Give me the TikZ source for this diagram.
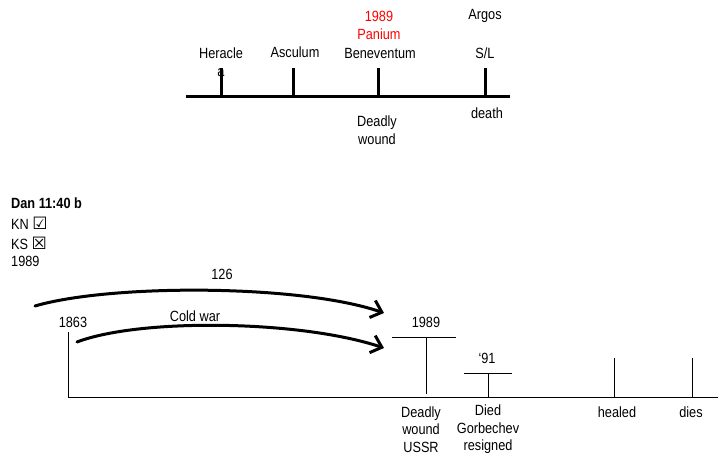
\documentclass[tikz,border=0pt]{standalone}
\usepackage{fontspec}
\setmainfont[FakeStretch=0.86]{Liberation Sans}
\newfontfamily\boxfont{DejaVu Sans}
\usetikzlibrary{arrows.meta}

\begin{document}
\begin{tikzpicture}[x=1pt, y=-1pt,
        lbl/.style={align=center, inner sep=0pt, font=\fontsize{14.8}{18.5}\selectfont},
        lbllow/.style={lbl, font=\fontsize{14.8}{17.5}\selectfont},
        bigline/.style={line width=3pt},
        thinline/.style={line width=1pt},
        hand/.style={line width=3pt, line cap=round, line join=round,
          -{Straight Barb[length=10pt, width=18pt, line width=3pt]}}]

        \useasboundingbox (0,0) rectangle (718,460);

        % top timeline
        \draw[bigline] (186,97) -- (510,97);
        \draw[bigline] (221,68) -- (221,97);
        \draw[bigline] (293,68) -- (293,97);
        \draw[bigline] (378,68) -- (378,97);
        \draw[bigline] (485,68) -- (485,97);

        \node[lbl] (heracle) at (221,62) {Heracle\\a};
        \node[lbl] (asculum) at (295,52) {Asculum};
        \node[lbl] (benev) at (380,53) {Beneventum};
        \node[lbl, text=red] (panium) at (379,25.5) {1989\\Panium};
        \node[lbl] (argos) at (485,16) {Argos};
        \node[lbl] (sl) at (485,53) {S/L};
        \node[lbl] (wound) at (377,130) {Deadly\\wound};
        \node[lbl] (death) at (487,113) {death};

        % notes
        \node[lbl, anchor=west, font=\fontsize{14.8}{18}\selectfont\bfseries] (dan) at (11,203) {Dan 11:40 b};
        \node[lbl, anchor=west] (kn) at (11,223) {KN {\boxfont\fontsize{17}{17}\selectfont ☑}};
        \node[lbl, anchor=west] (ks) at (11,243) {KS {\boxfont\fontsize{17}{17}\selectfont ☒}};
        \node[lbl, anchor=west] (year) at (11,261) {1989};

        % bottom timeline
        \draw[thinline] (68,332) -- (68,397) -- (718,397);
        \draw[thinline] (392,337) -- (456,337);
        \draw[thinline] (426,337) -- (426,394);
        \draw[thinline] (464,373) -- (512,373);
        \draw[thinline] (488,373) -- (488,397);
        \draw[thinline] (614,358) -- (614,397);
        \draw[thinline] (692,358) -- (692,397);

        \node[lbl] (start) at (73,322) {1863};
        \node[lbl] (ussr) at (426,322) {1989};
        \node[lbl] (ninety) at (487,358) {‘91};
        \node[lbllow] (deadly) at (421,429.5) {Deadly\\wound\\USSR};
        \node[lbllow] (died) at (488,429.5) {Died\\Gorbechev\\resigned};
        \node[lbl] (healed) at (617,412) {healed};
        \node[lbl] (dies) at (691,412) {dies};

        % hand drawn arrows
        \coordinate (a1) at (35,306);
        \coordinate (b1) at (384,313);
        \coordinate (a2) at (77,342);
        \coordinate (b2) at (384,348);
        \draw[hand] (a1) .. controls (110,284) and (300,284) .. (b1);
        \draw[hand] (a2) .. controls (140,318) and (300,320) .. (b2);
        \node[lbl] (span) at (222,274) {126};
        \node[lbl] (cold) at (195,316) {Cold war};

\end{tikzpicture}
\end{document}
